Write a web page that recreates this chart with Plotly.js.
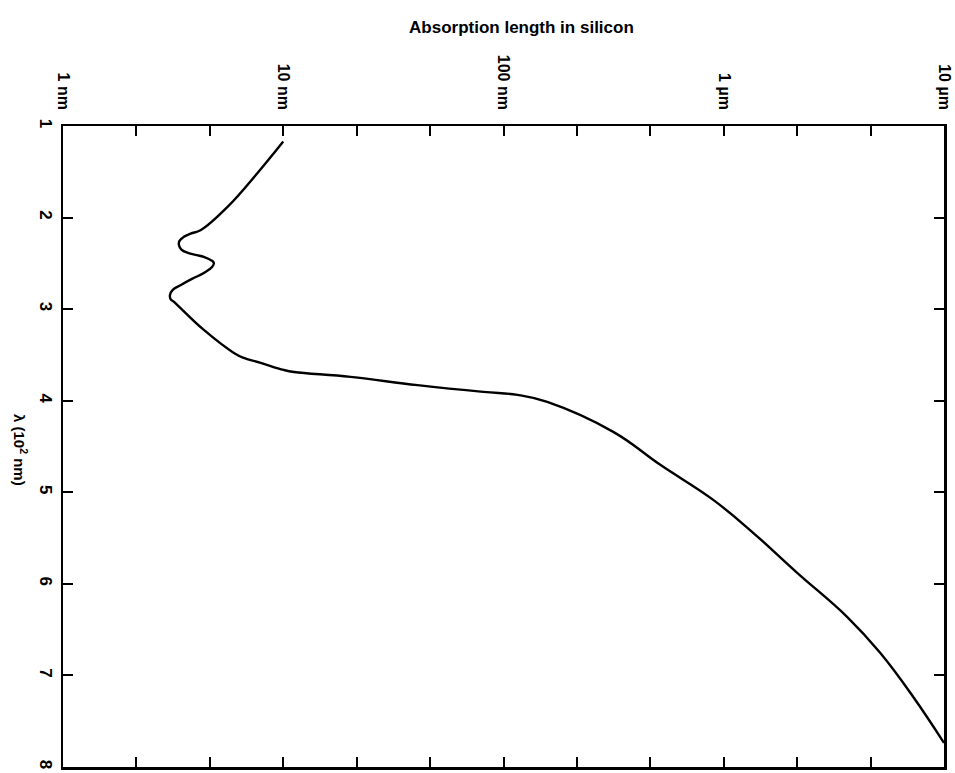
<!DOCTYPE html>
<html>
<head>
<meta charset="utf-8">
<script src="https://cdn.plot.ly/plotly-3.0.1.min.js"></script>
<style>html,body{margin:0;padding:0;background:#fff;}#chart{width:955px;height:773px;}</style>
</head>
<body>
<div id="chart"></div>
<script>
// Absorption length in silicon (nm) vs wavelength lambda (in units of 10^2 nm)
var absorptionLengthNm = [10.0, 7.66, 5.6, 4.23, 3.8, 3.54, 3.38, 3.36, 3.45, 3.69, 4.05, 4.36, 4.7, 4.84, 4.75, 4.36, 3.85, 3.43, 3.15, 3.06, 3.08, 3.19, 4.36, 5.97, 6.62, 7.9, 10.05, 11.2, 20.2, 40.7, 81, 115.7, 158, 315, 515, 896, 1360, 2155, 3630, 5130, 7240, 10000];
var wavelength100nm   = [1.17, 1.51, 1.88, 2.135, 2.175, 2.21, 2.255, 2.30, 2.35, 2.386, 2.41, 2.43, 2.465, 2.496, 2.54, 2.605, 2.67, 2.736, 2.79, 2.845, 2.89, 2.92, 3.227, 3.478, 3.533, 3.587, 3.664, 3.686, 3.74, 3.83, 3.904, 3.936, 4.013, 4.34, 4.70, 5.083, 5.443, 5.88, 6.36, 6.753, 7.233, 7.737];

var xTickVals = [1, 10, 100, 1000, 10000];
var xTickText = ['1 nm', '10 nm', '100 nm', '1 \u00b5m', '10 \u00b5m'];
var xMinorVals = [2.154, 4.642, 21.54, 46.42, 215.4, 464.2, 2154, 4642];
var yTickVals = [1, 2, 3, 4, 5, 6, 7, 8];
var yTickText = ['1', '2', '3', '4', '5', '6', '7', '8'];

var font = 'Liberation Sans, Arial, Helvetica, sans-serif';

var trace = {
  x: absorptionLengthNm,
  y: wavelength100nm,
  type: 'scatter',
  mode: 'lines',
  line: {color: '#000', width: 2.4, shape: 'spline', smoothing: 1.2},
  hoverinfo: 'skip'
};

var layout = {
  width: 955, height: 773,
  margin: {l: 63, r: 11, t: 126, b: 6},
  paper_bgcolor: '#fff', plot_bgcolor: '#fff',
  showlegend: false,
  title: {text: 'Absorption length in silicon', x: 0.546, xanchor: 'center', xref: 'container', y: 0.965, yanchor: 'middle', yref: 'container', font: {family: font, size: 17, weight: 'bold', color: '#000'}},
  xaxis: {
    type: 'log', range: [0, 4], side: 'top',
    tickmode: 'array', tickvals: xTickVals, ticktext: xTickText,
    ticks: 'inside', ticklen: 10, tickwidth: 2, tickcolor: '#000',
    minor: {tickmode: 'array', tickvals: xMinorVals, ticks: 'inside', ticklen: 10, tickwidth: 2, tickcolor: '#000', showgrid: false},
    tickangle: 90, ticklabelstandoff: 8,
    tickfont: {family: font, size: 16, weight: 'bold', color: '#000'},
    showline: true, linecolor: '#000', linewidth: 2.5, mirror: 'ticks',
    showgrid: false, zeroline: false, fixedrange: true
  },
  yaxis: {
    range: [8, 1],
    tickmode: 'array', tickvals: yTickVals, ticktext: yTickText,
    ticks: 'inside', ticklen: 10, tickwidth: 2, tickcolor: '#000',
    tickangle: 90, ticklabelstandoff: 0,
    tickfont: {family: font, size: 17, weight: 'bold', color: '#000'},
    showline: true, linecolor: '#000', linewidth: 2.5, mirror: 'ticks',
    showgrid: false, zeroline: false, fixedrange: true
  },
  annotations: [{
    text: '\u03bb (10<sup>2</sup> nm)', xref: 'paper', yref: 'paper',
    x: -0.048, y: 0.495, xanchor: 'center', yanchor: 'middle',
    textangle: 90, showarrow: false,
    font: {family: font, size: 15, weight: 'bold', color: '#000'}
  }]
};

Plotly.newPlot('chart', [trace], layout, {displayModeBar: false, staticPlot: true});
</script>
</body>
</html>
